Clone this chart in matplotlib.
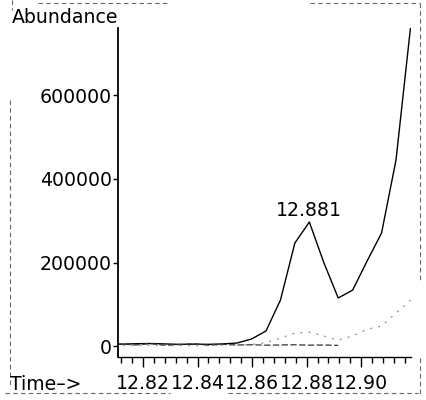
import matplotlib.pyplot as plt
from matplotlib.lines import Line2D
from matplotlib.ticker import MultipleLocator

# retention times (min) of the scans
time = [12.8068, 12.8121, 12.8174, 12.8227, 12.8280, 12.8333, 12.8386,
        12.8439, 12.8492, 12.8545, 12.8598, 12.8651, 12.8704, 12.8757,
        12.8810, 12.8863, 12.8916, 12.8969, 12.9022, 12.9075, 12.9128,
        12.9181]

# main ion trace
tic = [4000, 4500, 5500, 6000, 5000, 4000, 4500, 4000, 5000, 7200,
       16800, 36000, 110000, 246700, 297000, 200000, 115000, 134000,
       203600, 270600, 445500, 761600]

# second ion, flat up to 12.89
ion2 = [3000, 5000, 2500, 6000, 1500, 3500, 5500, 2000, 4000, 2500,
        3000, 2000, 2500, 3000, 2000, 2500, 1500]

# third ion: small hump under the peak, then rising tail
ion3 = [1000, 1500, 1000, 2000, 1500, 1000, 1500, 1000, 2000, 2500,
        3500, 8000, 19000, 31000, 33000, 24000, 14000, 24000, 40000,
        48000, 79000, 110000]

peak_time = 12.881
peak_value = 297000

fig = plt.figure(figsize=(4.27, 4.0), dpi=100)
ax = fig.add_axes([118 / 427, 1 - 357 / 400, 293 / 427, 329 / 400])

ax.plot(time, tic, color='black', lw=1.0)
ax.plot(time[:len(ion2)], ion2, color='#333333', lw=0.9,
        linestyle=(0, (5, 2)))
ax.plot(time, ion3, color='#8a8a8a', lw=0.9, linestyle=(0, (1.5, 5)))

ax.annotate(f"{peak_time:.3f}", (peak_time, peak_value), xytext=(0, 4),
            textcoords='offset points', ha='center', va='baseline',
            fontsize=13.6)

ax.set_xlim(12.8108, 12.9183)
ax.set_ylim(-26300, 761600)

for s in ['top', 'right']:
    ax.spines[s].set_visible(False)
ax.spines['left'].set_linewidth(1.3)
ax.spines['bottom'].set_linewidth(1.0)

ax.xaxis.set_major_locator(MultipleLocator(0.02))
ax.xaxis.set_minor_locator(MultipleLocator(0.004))
ax.yaxis.set_major_locator(MultipleLocator(200000))
ax.xaxis.set_major_formatter(plt.FuncFormatter(lambda v, p: f"{v:.2f}"))
ax.yaxis.set_major_formatter(plt.FuncFormatter(lambda v, p: f"{v:.0f}"))
ax.tick_params(axis='x', which='major', length=7, width=1.0, pad=5,
               labelsize=13.6)
ax.tick_params(axis='x', which='minor', length=4, width=1.0)
ax.tick_params(axis='y', which='major', length=3.5, width=1.0, pad=1,
               labelsize=13.6)

fig.text(12 / 427, 1 - 23 / 400, "Abundance", fontsize=13.6, va='baseline')
fig.text(10 / 427, 1 - 390 / 400, "Time–>", fontsize=13.6, va='baseline')

# page frame around the printout
frame = [
    ([38 / 427, 170 / 427], [1 - 3 / 400, 1 - 3 / 400]),
    ([310 / 427, 420 / 427], [1 - 3 / 400, 1 - 3 / 400]),
    ([420 / 427, 420 / 427], [1 - 3 / 400, 1 - 282 / 400]),
    ([420 / 427, 420 / 427], [1 - 358 / 400, 1 - 395 / 400]),
    ([5 / 427, 170 / 427], [1 - 393 / 400, 1 - 393 / 400]),
    ([228 / 427, 418 / 427], [1 - 393 / 400, 1 - 393 / 400]),
    ([10 / 427, 10 / 427], [1 - 100 / 400, 1 - 385 / 400]),
    ([12 / 427, 12 / 427], [1 - 0 / 400, 1 - 10 / 400]),
]
for xs, ys in frame:
    fig.add_artist(Line2D(xs, ys, transform=fig.transFigure, color='#666666',
                          lw=0.8, linestyle=(0, (4, 3))))

fig.savefig('out.png', dpi=100)
